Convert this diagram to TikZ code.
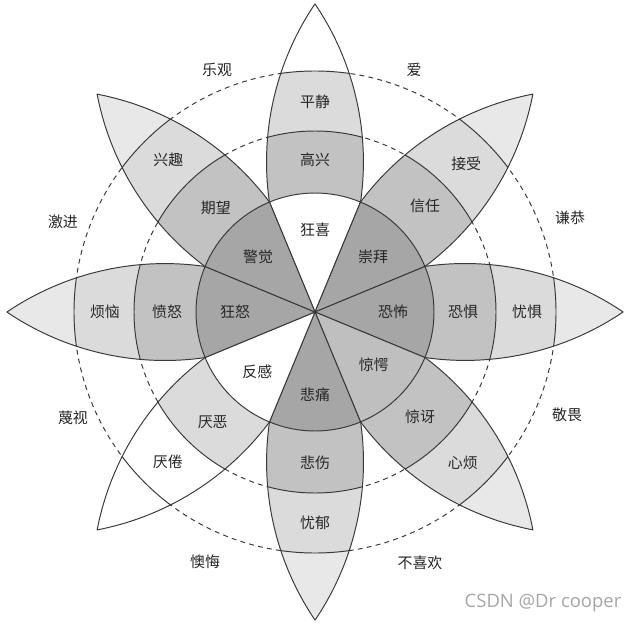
\documentclass[tikz,border=0pt]{standalone}
\usepackage{fontspec}
\newfontfamily\cjk{Noto Sans CJK SC}
\newfontfamily\wmfont{Open Sans}
\usepackage{xcolor}
\usepackage{tikz}
\usetikzlibrary{calc}
\definecolor{ewdark}{gray}{0.65}
\definecolor{ewsoft}{gray}{0.75}
\definecolor{ewmid}{gray}{0.76}
\definecolor{ewlight}{gray}{0.86}
\definecolor{ewtip}{gray}{0.91}
\definecolor{ewink}{gray}{0.22}
\tikzset{
ewline/.style={draw=ewink,line width=0.55pt,line join=round},
ewdash/.style={draw=ewink,line width=0.55pt,dash pattern=on 2.8pt off 2.4pt},
ewlabel/.style={font=\cjk\fontsize{8.5}{10}\selectfont,text=black!85,inner sep=1pt},
ewdyad/.style={ewlabel},
ewmark/.style={font=\wmfont\fontsize{10.5}{12}\selectfont,text=black!35,inner sep=0pt},
pics/ewpetal/.style n args={4}{code={
  \begin{scope}
    \clip (-22.5:2.38) arc[start angle=-98.2,end angle=-55.9,radius=5.636]
      arc[start angle=55.9,end angle=98.2,radius=5.636]
      arc[start angle=22.5,end angle=-22.5,radius=2.38] -- cycle;
    \fill[#4] (0,0) circle[radius=6.4];
    \fill[#3] (0,0) circle[radius=4.82];
    \fill[#2] (0,0) circle[radius=3.62];
    \draw[ewline] (0,0) circle[radius=3.62] (0,0) circle[radius=4.82];
  \end{scope}
  \filldraw[ewline,fill=#1] (0,0) -- (-22.5:2.38)
    arc[start angle=-22.5,end angle=22.5,radius=2.38] -- cycle;
  \draw[ewline] (-22.5:2.38) arc[start angle=-98.2,end angle=-55.9,radius=5.636]
    arc[start angle=55.9,end angle=98.2,radius=5.636];
}}
}

\begin{document}
\begin{tikzpicture}[
x=1cm,
y=1cm
]
\useasboundingbox[fill=white] (-6.30,-6.26) rectangle (6.50,6.24);
\coordinate (hub) at (0,0);
\draw[ewdash] (hub) circle[radius=3.62];
\draw[ewdash] (hub) circle[radius=4.82];
\pic[rotate=90] at (hub) {ewpetal={white}{ewmid}{ewlight}{white}};
\pic[rotate=45] at (hub) {ewpetal={ewdark}{ewmid}{ewlight}{ewtip}};
\pic[rotate=0] at (hub) {ewpetal={ewdark}{ewmid}{ewlight}{ewtip}};
\pic[rotate=-45] at (hub) {ewpetal={ewsoft}{ewmid}{ewlight}{ewtip}};
\pic[rotate=-90] at (hub) {ewpetal={ewdark}{ewmid}{ewlight}{ewtip}};
\pic[rotate=-135] at (hub) {ewpetal={white}{ewlight}{white}{white}};
\pic[rotate=180] at (hub) {ewpetal={ewdark}{ewmid}{ewlight}{ewtip}};
\pic[rotate=135] at (hub) {ewpetal={ewdark}{ewmid}{ewlight}{ewtip}};
\node[ewlabel] (ecstasy) at (90:1.64) {狂喜};
\node[ewlabel] (admiration) at (43.5:1.60) {崇拜};
\node[ewlabel] (terror) at (0:1.56) {恐怖};
\node[ewlabel] (amazement) at (-42:1.58) {惊愕};
\node[ewlabel] (grief) at (-90:1.66) {悲痛};
\node[ewlabel] (loathing) at (-134:1.66) {反感};
\node[ewlabel] (rage) at (180:1.60) {狂怒};
\node[ewlabel] (vigilance) at (136:1.58) {警觉};
\node[ewlabel] (joy) at (90:3.04) {高兴};
\node[ewlabel] (serenity) at (90:4.20) {平静};
\node[ewlabel] (trust) at (44:3.06) {信任};
\node[ewlabel] (acceptance) at (44.5:4.24) {接受};
\node[ewlabel] (fear) at (0:2.96) {恐惧};
\node[ewlabel] (apprehension) at (0:4.24) {忧惧};
\node[ewlabel] (surprise) at (-45:2.97) {惊讶};
\node[ewlabel] (distraction) at (-45.5:4.22) {心烦};
\node[ewlabel] (sadness) at (-90:3.02) {悲伤};
\node[ewlabel] (pensiveness) at (-90:4.22) {忧郁};
\node[ewlabel] (disgust) at (-133:3.00) {厌恶};
\node[ewlabel] (boredom) at (-134.5:4.20) {厌倦};
\node[ewlabel] (anger) at (180:2.96) {愤怒};
\node[ewlabel] (annoyance) at (180:4.20) {烦恼};
\node[ewlabel] (anticipation) at (133.5:2.88) {期望};
\node[ewlabel] (interest) at (134:4.22) {兴趣};
\node[ewdyad] (optimism) at (-1.96,4.84) {乐观};
\node[ewdyad] (love) at (1.98,4.84) {爱};
\node[ewdyad] (submission) at (5.10,1.88) {谦恭};
\node[ewdyad] (awe) at (5.04,-2.06) {敬畏};
\node[ewdyad] (disapproval) at (2.10,-5.02) {不喜欢};
\node[ewdyad] (remorse) at (-2.20,-5.00) {懊悔};
\node[ewdyad] (contempt) at (-4.84,-2.12) {蔑视};
\node[ewdyad] (aggressiveness) at (-5.04,1.80) {激进};
\node[ewmark] (watermark) at (4.56,-5.82) {CSDN @Dr cooper};
\end{tikzpicture}
\end{document}
